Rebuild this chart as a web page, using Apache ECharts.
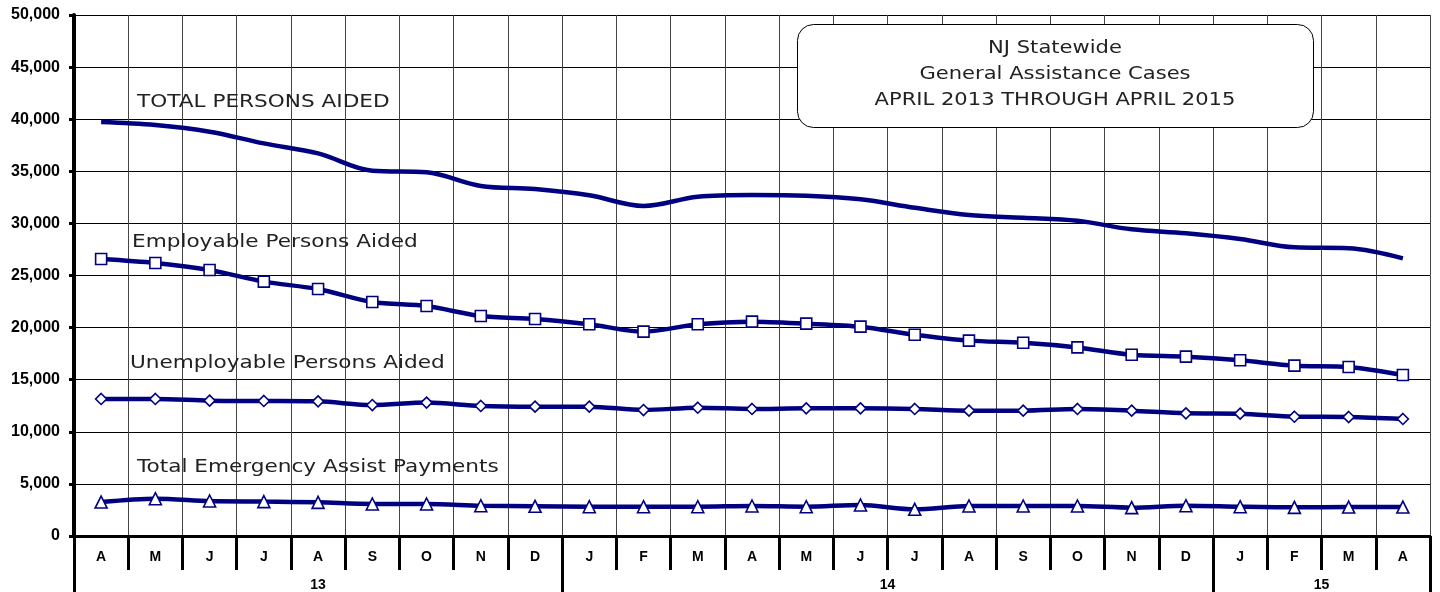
<!DOCTYPE html>
<html>
<head>
<meta charset="utf-8">
<script src="https://cdn.jsdelivr.net/npm/echarts@6/dist/echarts.min.js"></script>
<style>
html,body{margin:0;padding:0;background:#fff;}
#chart{width:1440px;height:592px;}
</style>
</head>
<body>
<div id="chart"></div>
<script>
var months = ['A','M','J','J','A','S','O','N','D','J','F','M','A','M','J','J','A','S','O','N','D','J','F','M','A'];
var monthYears = ['13','13','13','13','13','13','13','13','13','14','14','14','14','14','14','14','14','14','14','14','14','15','15','15','15'];
var yTicks = [0,5000,10000,15000,20000,25000,30000,35000,40000,45000,50000];

var totalPersons = [39730,39440,38800,37680,36720,35050,34900,33590,33300,32700,31670,32560,32730,32660,32310,31500,30800,30550,30260,29430,29050,28500,27700,27610,26650];
var employable = [26580,26200,25530,24410,23700,22450,22070,21110,20830,20320,19610,20320,20570,20380,20090,19320,18750,18550,18100,17400,17210,16860,16350,16220,15450];
var unemployable = [13150,13150,12990,12960,12920,12570,12800,12480,12410,12410,12090,12310,12190,12250,12250,12190,12030,12030,12190,12030,11770,11740,11450,11420,11230];
var emergency = [3260,3580,3360,3300,3230,3070,3070,2910,2850,2810,2810,2810,2880,2810,2975,2560,2880,2880,2880,2720,2910,2810,2750,2780,2780];

var seriesNames = ['TOTAL PERSONS AIDED','Employable Persons Aided','Unemployable Persons Aided','Total Emergency Assist Payments'];
var titleLines = ['NJ Statewide','General Assistance Cases','APRIL 2013 THROUGH APRIL 2015'];

// year group boundaries and centres from monthYears
var yearBounds = [0], yearCenters = [], yearLabels = [];
var start = 0;
for (var i = 1; i <= monthYears.length; i++) {
  if (i === monthYears.length || monthYears[i] !== monthYears[i-1]) {
    yearBounds.push(i);
    yearCenters.push((start + i) / 2);
    yearLabels.push(monthYears[start]);
    start = i;
  }
}

var NAVY = '#000080';
function lineSeries(name, data, symbol, size, smooth) {
  return {
    name: name, type: 'line', data: data,
    smooth: smooth, symbol: symbol, symbolSize: size,
    showSymbol: symbol !== 'none',
    lineStyle: {color: NAVY, width: 4.5},
    itemStyle: {color: '#fff', borderColor: NAVY, borderWidth: 1.6},
    emphasis: {disabled: true},
    z: 5
  };
}

var chart = echarts.init(document.getElementById('chart'), null, {renderer: 'canvas'});
var annFont = 'DejaVu Sans, Verdana, sans-serif';
var axFont = 'Liberation Sans, Arial, sans-serif';
function ann(text, x, y) {
  return {type: 'text', x: x, y: y, scaleX: 1.2, z: 10,
    style: {text: text, font: '18px ' + annFont, fill: '#222', textAlign: 'left', textVerticalAlign: 'middle'}};
}
function ttl(text, y) {
  return {type: 'text', x: 1055, y: y, scaleX: 1.17, z: 11,
    style: {text: text, font: '18px ' + annFont, fill: '#222', textAlign: 'center', textVerticalAlign: 'middle'}};
}
chart.setOption({
  animation: false,
  backgroundColor: '#fff',
  grid: {left: 74, right: 10, top: 15, bottom: 56, containLabel: false},
  xAxis: [{
    type: 'category', data: months, boundaryGap: true, position: 'bottom',
    axisLine: {show: true, lineStyle: {color: '#000', width: 3}},
    axisTick: {show: true, interval: 0, length: 34, lineStyle: {color: '#000', width: 3}},
    axisLabel: {interval: 0, margin: 14, color: '#000', fontWeight: 'bold', fontSize: 14, fontFamily: axFont},
    splitLine: {show: true, interval: 0, lineStyle: {color: '#444', width: 1}}
  }, {
    type: 'value', min: 0, max: months.length, position: 'bottom',
    axisLine: {show: false},
    axisTick: {show: true, customValues: yearBounds, length: 56, lineStyle: {color: '#000', width: 3}},
    axisLabel: {show: true, customValues: yearCenters, margin: 42, color: '#000', fontWeight: 'bold', fontSize: 14,
      fontFamily: axFont,
      formatter: function (v) { var k = yearCenters.indexOf(v); return k >= 0 ? yearLabels[k] : ''; }},
    splitLine: {show: false}
  }],
  yAxis: {
    type: 'value', min: yTicks[0], max: yTicks[yTicks.length-1], interval: yTicks[1]-yTicks[0],
    axisLine: {show: true, lineStyle: {color: '#000', width: 4}},
    axisTick: {show: true, length: 5, lineStyle: {color: '#000', width: 3}},
    axisLabel: {margin: 14, color: '#000', fontWeight: 'bold', fontSize: 16, fontFamily: axFont,
      formatter: function (v) { return v.toLocaleString('en-US'); }},
    splitLine: {show: true, lineStyle: {color: '#000', width: 1}}
  },
  series: [
    lineSeries(seriesNames[0], totalPersons, 'none', 0, 0.35),
    lineSeries(seriesNames[1], employable, 'rect', 11, 0.3),
    lineSeries(seriesNames[2], unemployable, 'path://M0,-1L1,0L0,1L-1,0Z', 11, 0.3),
    lineSeries(seriesNames[3], emergency, 'triangle', 12, 0.3)
  ],
  graphic: [
    ann(seriesNames[0], 137, 102),
    ann(seriesNames[1], 132, 242),
    ann(seriesNames[2], 130, 363),
    ann(seriesNames[3], 137, 467),
    {type: 'rect', left: 797, top: 24, z: 10, shape: {width: 516, height: 103, r: 16},
      style: {fill: '#fff', stroke: '#000', lineWidth: 1}},
    ttl(titleLines[0], 48),
    ttl(titleLines[1], 74),
    ttl(titleLines[2], 100)
  ]
});
</script>
</body>
</html>
